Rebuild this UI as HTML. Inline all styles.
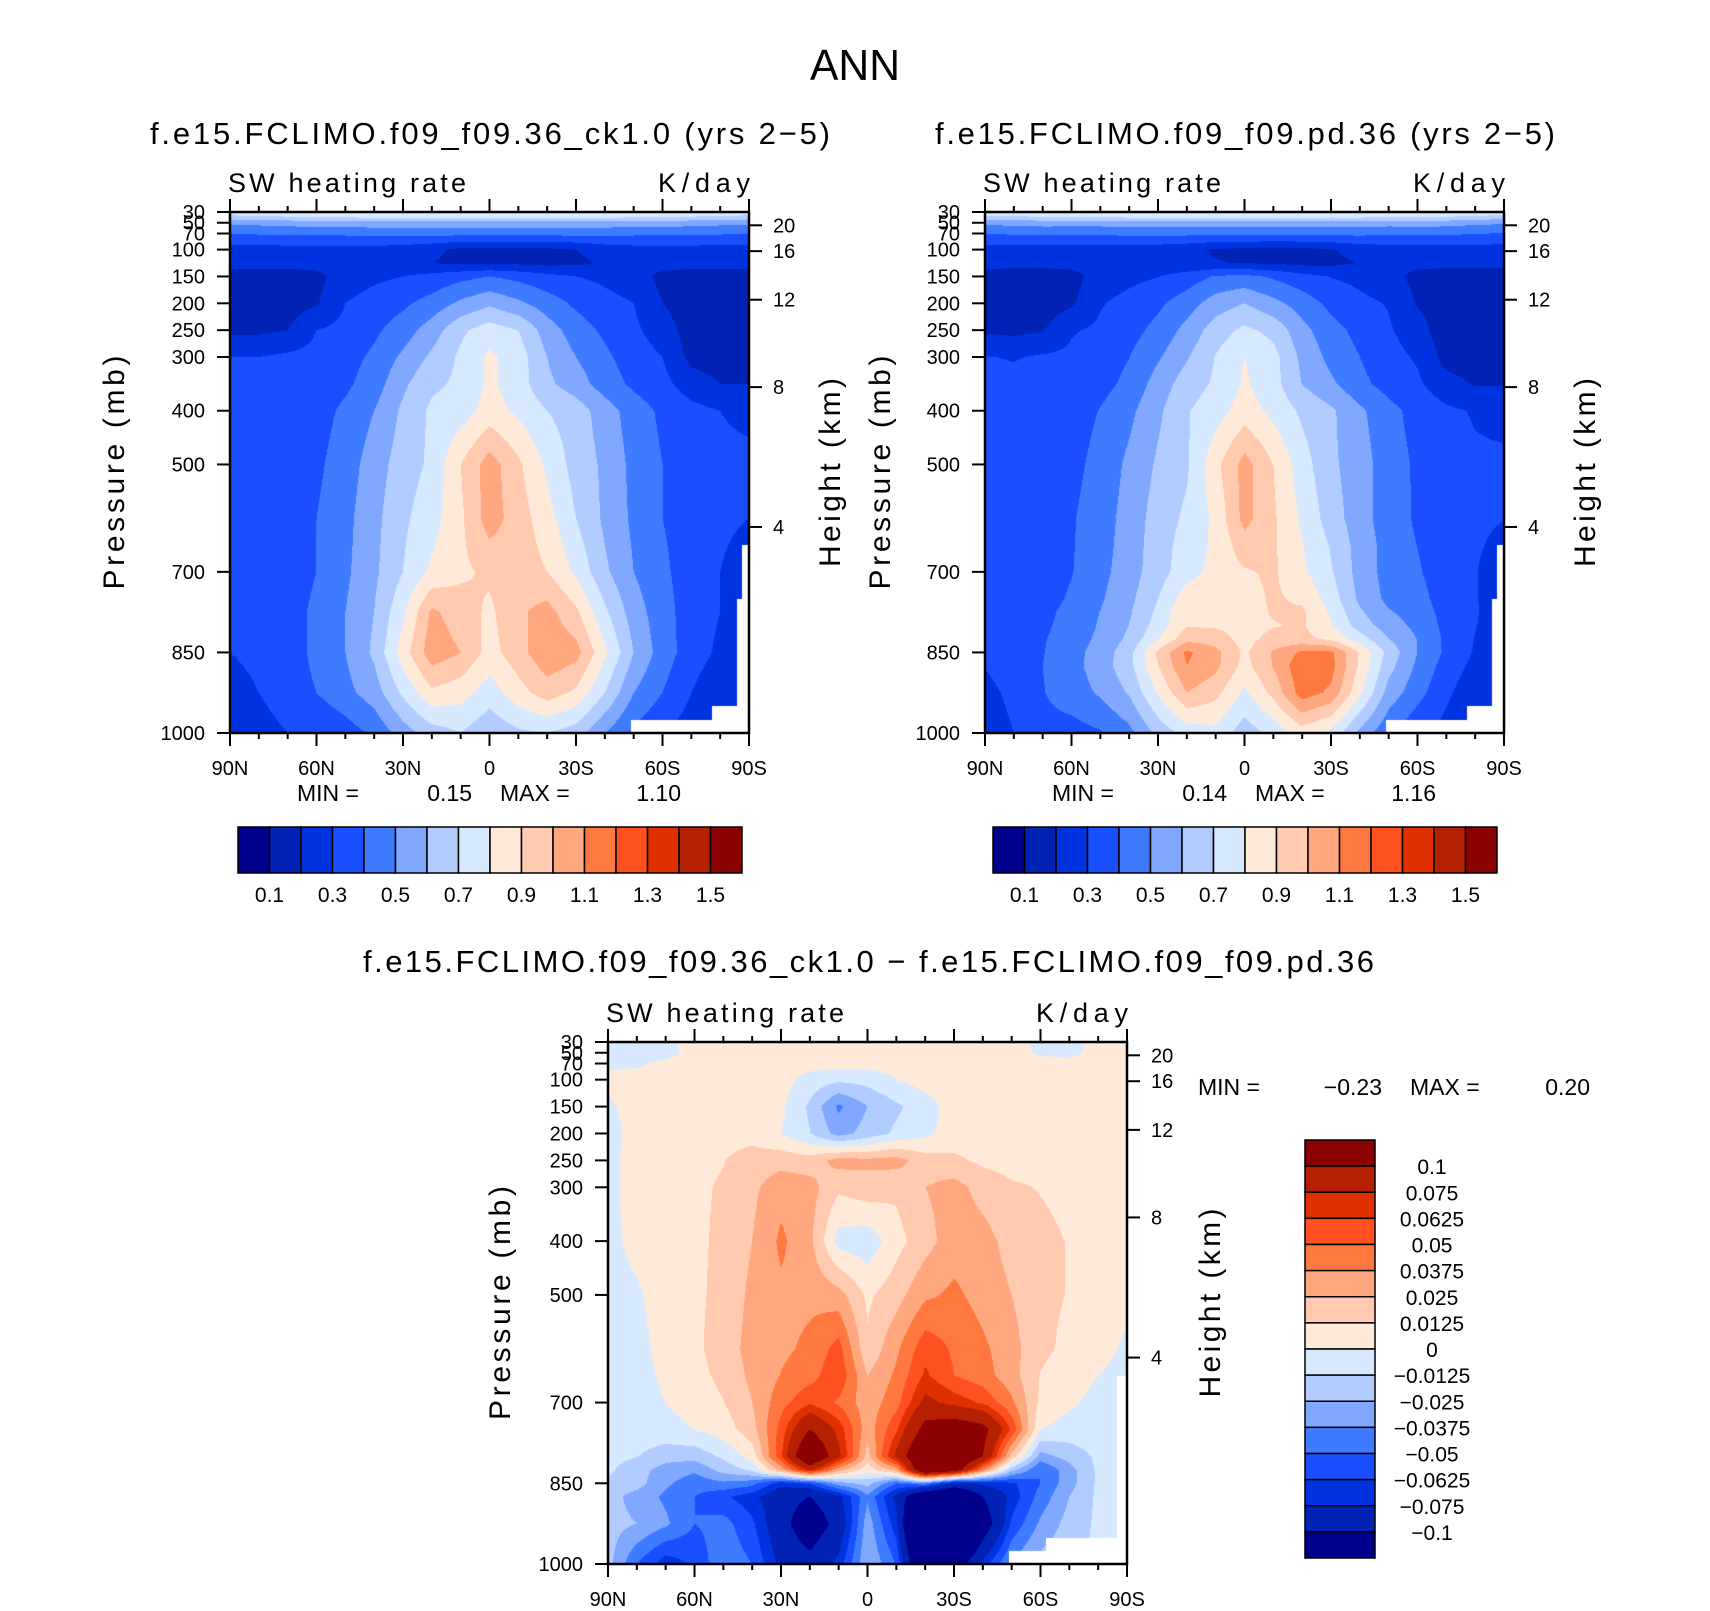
<!DOCTYPE html>
<html><head><meta charset="utf-8">
<style>
html,body{margin:0;padding:0;background:#fff;}
#wrap{position:relative;width:1710px;height:1611px;overflow:hidden;background:#fff;}
canvas{position:absolute;}
svg{position:absolute;left:0;top:0;}
text{font-family:"Liberation Sans",sans-serif;fill:#000;}
</style></head>
<body>
<div id="wrap">
<canvas id="c1" width="519" height="521" style="left:230px;top:212px"></canvas>
<canvas id="c2" width="519" height="521" style="left:985px;top:212px"></canvas>
<canvas id="c3" width="519" height="522" style="left:608px;top:1042px"></canvas>
<svg id="s" width="1710" height="1611" xmlns="http://www.w3.org/2000/svg">
<text x="855" y="80" font-size="44" text-anchor="middle" textLength="90" lengthAdjust="spacingAndGlyphs">ANN</text>
<text x="150" y="144" font-size="31" textLength="680" lengthAdjust="spacing">f.e15.FCLIMO.f09_f09.36_ck1.0 (yrs 2−5)</text>
<text x="935" y="144" font-size="31" textLength="620" lengthAdjust="spacing">f.e15.FCLIMO.f09_f09.pd.36 (yrs 2−5)</text>
<text x="363" y="972" font-size="31" textLength="1011" lengthAdjust="spacing">f.e15.FCLIMO.f09_f09.36_ck1.0 − f.e15.FCLIMO.f09_f09.pd.36</text>
</svg>
</div>
<script>
// ---------- data ----------
const LATS=[90,80,70,60,50,40,30,20,10,0,-10,-20,-30,-40,-50,-60,-70,-80,-90];
const P1=[30,50,70,100,125,150,200,250,300,350,400,500,600,700,775,850,925,1000];
const SW1=[
[0.78,0.8,0.82,0.84,0.85,0.86,0.86,0.86,0.86,0.86,0.86,0.86,0.86,0.86,0.85,0.84,0.82,0.8,0.78],
[0.52,0.53,0.54,0.55,0.55,0.56,0.56,0.56,0.56,0.56,0.56,0.56,0.56,0.56,0.55,0.55,0.54,0.53,0.52],
[0.4,0.41,0.42,0.42,0.42,0.43,0.43,0.43,0.43,0.43,0.43,0.43,0.43,0.43,0.42,0.42,0.42,0.41,0.4],
[0.26,0.26,0.26,0.26,0.26,0.26,0.25,0.22,0.18,0.17,0.17,0.18,0.2,0.24,0.26,0.26,0.26,0.26,0.26],
[0.24,0.24,0.24,0.24,0.25,0.25,0.24,0.2,0.18,0.18,0.18,0.17,0.18,0.21,0.24,0.24,0.24,0.24,0.24],
[0.15,0.15,0.15,0.17,0.25,0.28,0.3,0.33,0.37,0.4,0.37,0.33,0.3,0.28,0.25,0.17,0.15,0.15,0.15],
[0.15,0.15,0.15,0.19,0.3,0.34,0.38,0.44,0.52,0.58,0.52,0.45,0.38,0.33,0.3,0.2,0.15,0.15,0.15],
[0.18,0.18,0.2,0.3,0.33,0.38,0.45,0.55,0.68,0.75,0.7,0.55,0.45,0.38,0.32,0.25,0.15,0.15,0.15],
[0.3,0.3,0.32,0.33,0.36,0.42,0.52,0.62,0.72,0.82,0.75,0.6,0.5,0.42,0.35,0.3,0.17,0.15,0.15],
[0.33,0.33,0.34,0.35,0.38,0.45,0.58,0.68,0.72,0.82,0.75,0.62,0.55,0.45,0.38,0.33,0.25,0.2,0.2],
[0.33,0.33,0.34,0.36,0.42,0.5,0.62,0.72,0.75,0.84,0.78,0.7,0.65,0.55,0.45,0.38,0.33,0.3,0.28],
[0.33,0.33,0.35,0.38,0.45,0.55,0.65,0.72,0.9,1.05,0.92,0.78,0.66,0.58,0.47,0.4,0.35,0.32,0.32],
[0.33,0.33,0.35,0.4,0.47,0.57,0.68,0.76,0.88,1.05,0.95,0.84,0.7,0.58,0.48,0.4,0.35,0.32,0.3],
[0.32,0.33,0.35,0.4,0.48,0.58,0.7,0.82,0.88,0.92,0.96,0.9,0.78,0.62,0.5,0.42,0.35,0.3,0.25],
[0.32,0.33,0.36,0.42,0.5,0.6,0.78,1.02,0.95,0.88,0.98,1.04,0.92,0.72,0.55,0.44,0.35,0.3,0.25],
[0.3,0.33,0.36,0.42,0.5,0.62,0.85,1.06,1.0,0.86,0.96,1.08,1.04,0.82,0.6,0.45,0.35,0.28,0.25],
[0.25,0.3,0.36,0.4,0.47,0.55,0.72,0.88,0.84,0.75,0.86,0.95,0.88,0.7,0.5,0.4,0.3,0.22,0.2],
[0.22,0.25,0.3,0.3,0.35,0.42,0.55,0.65,0.7,0.62,0.68,0.7,0.65,0.5,0.38,0.3,0.25,0.2,0.2]];
const PD=[30,50,70,100,150,200,250,300,400,500,600,650,700,750,800,825,850,875,925,1000];
const DIFF=[
[-0.005,-0.005,-0.003,0.005,0.005,0.005,0.005,0.005,0.005,0.005,0.005,0.005,0.008,0.005,0.005,-0.003,-0.005,0.005,0.005],
[-0.005,-0.006,-0.005,0.005,0.005,0.005,0.005,0.005,0.005,0.005,0.005,0.005,0.005,0.005,0.005,-0.002,-0.004,0.005,0.005],
[-0.002,-0.002,0.003,0.005,0.005,0.005,0.005,0.005,0.005,0.005,0.005,0.005,0.005,0.005,0.005,0.005,0.005,0.005,0.005],
[0.003,0.005,0.005,0.006,0.006,0.006,0.005,-0.005,-0.01,-0.008,0.0,0.005,0.006,0.006,0.006,0.006,0.006,0.006,0.006],
[-0.002,0.005,0.006,0.006,0.006,0.006,0.003,-0.015,-0.04,-0.025,-0.015,-0.005,0.005,0.006,0.006,0.006,0.006,0.006,0.006],
[-0.005,0.005,0.006,0.007,0.008,0.008,0.0,-0.012,-0.03,-0.02,-0.01,-0.003,0.006,0.007,0.007,0.007,0.007,0.007,0.006],
[-0.004,0.006,0.007,0.009,0.012,0.018,0.02,0.018,0.03,0.028,0.03,0.018,0.015,0.01,0.008,0.008,0.008,0.007,0.006],
[-0.004,0.006,0.008,0.01,0.014,0.022,0.033,0.03,0.015,0.02,0.015,0.025,0.03,0.02,0.014,0.012,0.01,0.008,0.006],
[-0.004,0.004,0.008,0.01,0.015,0.025,0.04,0.028,-0.005,-0.008,0.008,0.02,0.032,0.03,0.02,0.015,0.012,0.008,0.006],
[-0.005,-0.002,0.007,0.01,0.016,0.028,0.035,0.035,0.03,0.01,0.02,0.035,0.04,0.033,0.025,0.015,0.012,0.006,0.003],
[-0.005,-0.004,0.004,0.01,0.018,0.03,0.035,0.04,0.055,0.015,0.035,0.058,0.048,0.04,0.03,0.015,0.01,0.004,-0.002],
[-0.005,-0.004,0.002,0.008,0.016,0.028,0.038,0.045,0.06,0.025,0.04,0.065,0.05,0.043,0.03,0.012,0.006,0.0,-0.004],
[-0.005,-0.004,0.0,0.005,0.012,0.025,0.045,0.06,0.048,0.03,0.045,0.08,0.07,0.06,0.04,0.01,0.002,-0.004,-0.005],
[-0.006,-0.005,-0.004,0.0,0.006,0.02,0.055,0.1,0.07,0.03,0.06,0.11,0.12,0.11,0.06,0.0,-0.005,-0.005,-0.005],
[-0.008,-0.012,-0.02,-0.02,-0.01,0.005,0.06,0.14,0.08,0.02,0.08,0.14,0.15,0.1,0.02,-0.03,-0.02,-0.01,-0.005],
[-0.01,-0.02,-0.03,-0.035,-0.02,-0.01,0.03,0.08,0.03,0.005,0.03,0.14,0.12,0.04,-0.02,-0.05,-0.03,-0.01,-0.005],
[-0.015,-0.02,-0.035,-0.045,-0.04,-0.045,-0.07,-0.06,-0.03,-0.02,-0.05,-0.04,-0.08,-0.07,-0.065,-0.05,-0.03,-0.01,-0.005],
[-0.02,-0.03,-0.04,-0.05,-0.06,-0.07,-0.09,-0.1,-0.08,-0.04,-0.08,-0.14,-0.15,-0.1,-0.07,-0.045,-0.025,-0.01,-0.005],
[-0.02,-0.025,-0.035,-0.05,-0.045,-0.06,-0.09,-0.12,-0.09,-0.03,-0.07,-0.2,-0.2,-0.12,-0.06,-0.035,-0.02,-0.01,-0.005],
[-0.02,-0.05,-0.07,-0.06,-0.04,-0.05,-0.08,-0.09,-0.07,-0.025,-0.05,-0.15,-0.12,-0.07,-0.035,-0.02,-0.015,-0.01,-0.005]];
const LEV1=[0.1,0.2,0.3,0.4,0.5,0.6,0.7,0.8,0.9,1.0,1.1,1.2,1.3,1.4,1.5];
const LEVD=[-0.1,-0.075,-0.0625,-0.05,-0.0375,-0.025,-0.0125,0,0.0125,0.025,0.0375,0.05,0.0625,0.075,0.1];
const LAB1=["0.1","0.3","0.5","0.7","0.9","1.1","1.3","1.5"];
const LABD=["0.1","0.075","0.0625","0.05","0.0375","0.025","0.0125","0","−0.0125","−0.025","−0.0375","−0.05","−0.0625","−0.075","−0.1"];
const COLORS=["#00008C","#0022B5","#0033E0","#1A4FFF","#3F7BFF","#80A8FF","#B3CCFF","#D7E9FF","#FFEADA","#FFCAB0","#FFA880","#FF7840","#FF5020","#E03000","#B52000","#8B0000"];
const PTICKS=[30,50,70,100,150,200,250,300,400,500,700,850,1000];
const ZTICKS=[4,8,12,16,20];
const LATTICKS=["90N","60N","30N","0","30S","60S","90S"];
const STATS1=["0.15","1.10"],STATS2=["0.14","1.16"],STATSD=["−0.23","0.20"];

// ---------- helpers ----------
function interp(grid,P,lat,p){
  let fj=(90-lat)/10; let j=Math.min(Math.floor(fj),LATS.length-2); let tj=fj-j;
  let i=0; while(i<P.length-2 && p>P[i+1]) i++;
  let ti=(p-P[i])/(P[i+1]-P[i]); ti=Math.max(0,Math.min(1,ti));
  const a=grid[i][j]*(1-tj)+grid[i][j+1]*tj;
  const b=grid[i+1][j]*(1-tj)+grid[i+1][j+1]*tj;
  return a*(1-ti)+b*ti;
}
function hex(c){return [parseInt(c.substr(1,2),16),parseInt(c.substr(3,2),16),parseInt(c.substr(5,2),16)];}
const RGB=COLORS.map(hex);
function missing(lat,p,kind){
  if(kind==='d') return (p>975&&lat<-49)||(p>952&&lat<-62)||(p>650&&lat<-86.5);
  return (p>975&&lat<-49)||(p>950&&lat<-77)||(p>750&&lat<-86)||(p>650&&lat<-87.5);
}
function drawField(id,fn,levels,kind){
  const c=document.getElementById(id),ctx=c.getContext('2d');
  const W=c.width,H=c.height,img=ctx.createImageData(W,H);
  for(let y=0;y<H;y++){
    const p=30+(y+0.5)/H*970;
    for(let x=0;x<W;x++){
      const lat=90-(x+0.5)/W*180; const k=(y*W+x)*4;
      if(missing(lat,p,kind)){img.data[k]=255;img.data[k+1]=255;img.data[k+2]=255;img.data[k+3]=255;continue;}
      const v=fn(lat,p); let n=0; for(const l of levels) if(v>=l) n++;
      const col=RGB[n]; img.data[k]=col[0];img.data[k+1]=col[1];img.data[k+2]=col[2];img.data[k+3]=255;
    }
  }
  ctx.putImageData(img,0,0);
}
drawField('c1',(la,p)=>interp(SW1,P1,la,p),LEV1,'m');
drawField('c2',(la,p)=>interp(SW1,P1,la,p)-interp(DIFF,PD,la,p),LEV1,'m');
drawField('c3',(la,p)=>interp(DIFF,PD,la,p),LEVD,'d');

const NS='http://www.w3.org/2000/svg',S=document.getElementById('s');
function el(tag,attrs,txt){const e=document.createElementNS(NS,tag);for(const k in attrs)e.setAttribute(k,attrs[k]);if(txt!==undefined)e.textContent=txt;S.appendChild(e);return e;}
function zToP(z){const m=z*1000; if(m<=11000) return 1013.25*Math.pow(1-2.25577e-5*m,5.25588); return 226.32*Math.exp(-(m-11000)/6341.6);}

function axes(X,Y,W,H,o){
  const py=p=>Y+(p-30)/970*H, lx=l=>X+(90-l)/180*W;
  const fr=el('rect',{x:X,y:Y,width:W,height:H,fill:'none',stroke:'#000','stroke-width':2.5});
  
  
  for(let l=90;l>=-90;l-=10){
    const major=(l%30===0), len=major?13:6, x=lx(l);
    const t1=el('line',{x1:x,y1:Y+H,x2:x,y2:Y+H+len,stroke:'#000','stroke-width':2});
    
    
    const t2=el('line',{x1:x,y1:Y,x2:x,y2:Y-len,stroke:'#000','stroke-width':2});
    
    
  }
  LATTICKS.forEach((s,i)=>{
    const t=el('text',{x:X+i*W/6,y:Y+H+42,'font-size':20,'text-anchor':'middle'},s);
    
    
  });
  PTICKS.forEach(p=>{
    const y=py(p);
    const t=el('line',{x1:X-13,y1:y,x2:X,y2:y,stroke:'#000','stroke-width':2});
    
    
    const tx=el('text',{x:X-25,y:y+7,'font-size':20,'text-anchor':'end'},String(p));
    
    
  });
  ZTICKS.forEach(z=>{
    const y=py(zToP(z));
    const t=el('line',{x1:X+W,y1:y,x2:X+W+13,y2:y,stroke:'#000','stroke-width':2});
    
    
    const tx=el('text',{x:X+W+24,y:y+7,'font-size':20},String(z));
    
    
  });
  const a=el('text',{x:o.px,y:Y+H/2,'font-size':30,'text-anchor':'middle',transform:`rotate(-90 ${o.px} ${Y+H/2})`,textLength:234,lengthAdjust:'spacing'},'Pressure (mb)');
  
  
  const b=el('text',{x:o.hx,y:Y+H/2,'font-size':30,'text-anchor':'middle',transform:`rotate(-90 ${o.hx} ${Y+H/2})`,textLength:189,lengthAdjust:'spacing'},'Height (km)');
  
  
  const c=el('text',{x:X-2,y:Y-20,'font-size':27,textLength:238,lengthAdjust:'spacing'},'SW heating rate');
  
  
  const d=el('text',{x:X+W+1,y:Y-20,'font-size':27,'text-anchor':'end',textLength:92,lengthAdjust:'spacing'},'K/day');
  
  
}
axes(230,212,519,521,{pre:'left',px:124,hx:840});
axes(985,212,519,521,{pre:'right',px:890,hx:1595});
axes(608,1042,519,522,{pre:'diff',px:510,hx:1220});

function stats(x0,v0end,x1,v1end,y,v){
  const a=el('text',{x:x0,y:y,'font-size':23},'MIN =');
  
  
  const b=el('text',{x:v0end,y:y,'font-size':23,'text-anchor':'end'},v[0]);
  
  
  const c=el('text',{x:x1,y:y,'font-size':23},'MAX =');
  
  
  const d=el('text',{x:v1end,y:y,'font-size':23,'text-anchor':'end'},v[1]);
  
  
}
stats(297,472,500,681,801,STATS1);
stats(1052,1227,1255,1436,801,STATS2);
stats(1198,1382,1410,1590,1095,STATSD);

function hbar(X,Y,W,H,pre){
  const n=COLORS.length,cw=W/n;
  COLORS.forEach((c,i)=>{
    const r=el('rect',{x:X+i*cw,y:Y,width:cw,height:H,fill:c,stroke:'#000','stroke-width':1.5});
    
    
  });
  LAB1.forEach((s,i)=>{
    const t=el('text',{x:X+(2*i+1)*cw,y:Y+H+29,'font-size':21,'text-anchor':'middle'},s);
    
    
  });
}
hbar(238,827,504,46,'left');
hbar(993,827,504,46,'right');

(function(){
  const X=1305,Y=1140,W=70,H=418,n=COLORS.length,ch=H/n;
  for(let i=0;i<n;i++){
    const r=el('rect',{x:X,y:Y+i*ch,width:W,height:ch,fill:COLORS[n-1-i],stroke:'#000','stroke-width':1.5});
    
    
  }
  LABD.forEach((s,i)=>{
    const t=el('text',{x:1432,y:Y+(i+1)*ch+8,'font-size':21,'text-anchor':'middle'},s);
    
    
  });
})();
</script>
</body></html>
